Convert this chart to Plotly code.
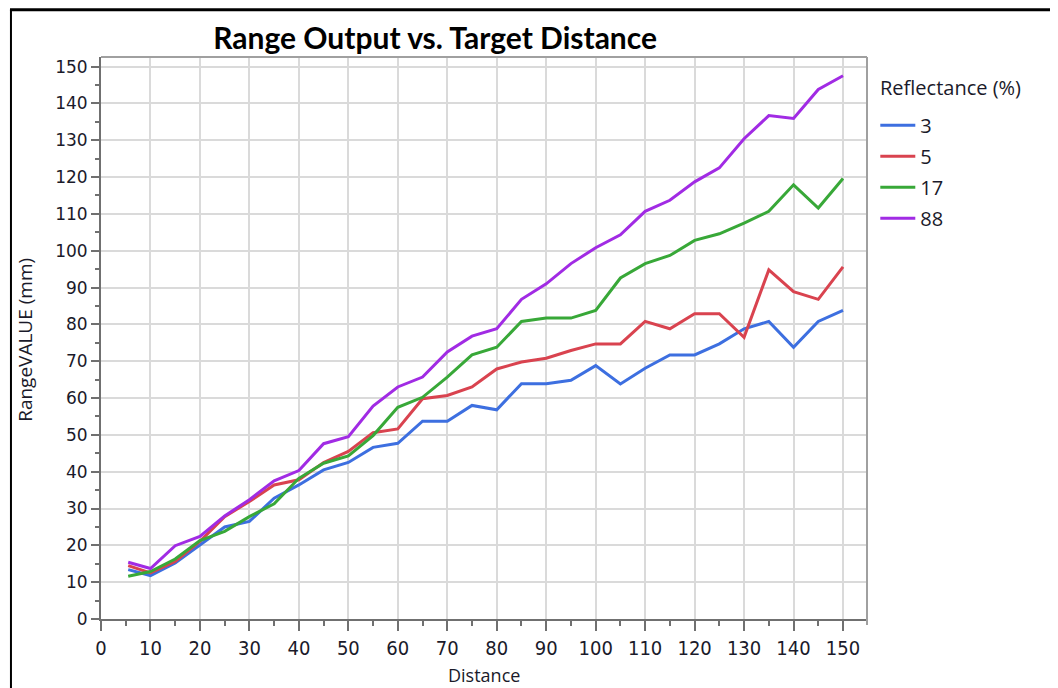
import plotly.graph_objects as go

distance = [5.5, 10, 15, 20, 25, 30, 35, 40, 45, 50, 55, 60, 65, 70, 75,
            80, 85, 90, 95, 100, 105, 110, 115, 120, 125, 130, 135, 140, 145, 150]

refl_3 = [13.4, 11.8, 15.2, 20.2, 25.0, 26.5, 32.8, 36.4, 40.5, 42.5, 46.6, 47.7, 53.7, 53.7, 58.0,
          56.8, 63.9, 63.9, 64.8, 68.8, 63.8, 68.1, 71.7, 71.7, 74.7, 78.8, 80.8, 73.8, 80.8, 83.8]
refl_5 = [14.5, 12.5, 15.6, 21.1, 27.8, 31.9, 36.4, 37.8, 42.5, 45.5, 50.6, 51.6, 59.8, 60.7, 63.0,
          67.9, 69.8, 70.8, 72.9, 74.7, 74.7, 80.8, 78.8, 82.9, 82.9, 76.5, 94.8, 88.9, 86.8, 95.6]
refl_17 = [11.6, 12.9, 16.3, 21.3, 23.8, 27.8, 31.3, 38.2, 42.3, 44.3, 49.8, 57.5, 60.2, 65.7, 71.7,
           73.8, 80.8, 81.7, 81.7, 83.8, 92.6, 96.5, 98.7, 102.8, 104.6, 107.5, 110.7, 117.9, 111.6, 119.6]
refl_88 = [15.4, 13.7, 19.9, 22.4, 28.0, 32.4, 37.5, 40.3, 47.6, 49.5, 57.8, 63.0, 65.7, 72.5, 76.8,
           78.8, 86.8, 91.0, 96.5, 100.8, 104.3, 110.7, 113.7, 118.7, 122.5, 130.4, 136.7, 135.9, 143.8, 147.5]

series_names = ["3", "5", "17", "88"]
series_values = [refl_3, refl_5, refl_17, refl_88]
series_colors = ["#3D6FE0", "#D9434F", "#38A838", "#A12BE4"]

# page body has an 8px margin: work in screen pixels and shift by 8
OFF = 8
W, H = 1058 - OFF, 688 - OFF
L, R, T, B = 101 - OFF, 1058 - 866.7, 57.3 - OFF, 688 - 619
pw, ph = W - L - R, H - T - B

def px_x(p):
    return (p - OFF - L) / pw

def px_y(p):
    return (H - B - (p - OFF)) / ph

fig = go.Figure()
for i, (name, vals, col) in enumerate(zip(series_names, series_values, series_colors)):
    fig.add_trace(go.Scatter(
        x=distance, y=vals, mode="lines", name=name,
        line=dict(color=col, width=3), legendgroup="g" + str(i),
    ))

txt_col = "#1a1a2a"

fig.update_layout(
    width=W, height=H,
    margin=dict(l=L, r=R, t=T, b=B, autoexpand=False),
    paper_bgcolor="white", plot_bgcolor="white",
    title=dict(text="<b>Range Output vs. Target Distance</b>",
               font=dict(family="Lato", size=30, color="black"),
               x=px_x(435), xref="paper", xanchor="center",
               y=1 - (38 - OFF) / H, yanchor="middle"),
    xaxis=dict(
        range=[0, 154.85], tickmode="array",
        tickvals=list(range(0, 151, 10)), ticktext=[str(v) for v in range(0, 151, 10)],
        ticks="outside", ticklen=10, tickwidth=1.5, tickcolor="#707070",
        showline=True, linecolor="#707070", linewidth=2,
        showgrid=True, gridcolor="#DADADA", gridwidth=2,
        zeroline=False,
        minor=dict(tickvals=list(range(5, 151, 10)), ticks="outside", ticklen=5,
                   tickcolor="#707070", tickwidth=1.5, showgrid=False),
        tickfont=dict(family="DejaVu Sans Condensed", size=20, color=txt_col),
    ),
    yaxis=dict(
        range=[0, 152.6], tickmode="array",
        tickvals=list(range(0, 151, 10)), ticktext=[str(v) for v in range(0, 151, 10)],
        ticks="outside", ticklen=8, tickwidth=1.5, tickcolor="#707070",
        showline=True, linecolor="#707070", linewidth=2,
        showgrid=True, gridcolor="#DADADA", gridwidth=2,
        zeroline=False,
        minor=dict(tickvals=list(range(5, 151, 10)), ticks="outside", ticklen=4,
                   tickcolor="#707070", tickwidth=1.5, showgrid=False),
        tickfont=dict(family="DejaVu Sans", size=17, color=txt_col),
    ),
    legend=dict(
        font=dict(family="Open Sans", size=20, color=txt_col),
        x=px_x(875), xanchor="left", y=px_y(106), yanchor="top",
        itemwidth=35, tracegroupgap=2, bgcolor="rgba(0,0,0,0)",
    ),
    showlegend=True,
)

# axis titles and legend title
fig.add_annotation(text="Distance", xref="paper", yref="paper", x=0.5, y=px_y(675),
                   xanchor="center", yanchor="middle", showarrow=False,
                   font=dict(family="Open Sans", size=18, color=txt_col))
fig.add_annotation(text="RangeVALUE (mm)", xref="paper", yref="paper", x=px_x(25), y=px_y(340),
                   xanchor="center", yanchor="middle", showarrow=False, textangle=-90,
                   font=dict(family="Open Sans", size=19, color=txt_col))
fig.add_annotation(text="Reflectance (%)", xref="paper", yref="paper", x=px_x(878), y=px_y(88),
                   xanchor="left", yanchor="middle", showarrow=False,
                   font=dict(family="Open Sans", size=20, color=txt_col))

# plot frame (top and right)
fig.add_shape(type="line", xref="paper", yref="paper", x0=0, x1=1, y0=1, y1=1,
              line=dict(color="#A0A0A0", width=2))
fig.add_shape(type="line", xref="paper", yref="paper", x0=1, x1=1, y0=px_y(625), y1=1,
              line=dict(color="#A0A0A0", width=2))
# outer black frame
fig.add_shape(type="line", xref="paper", yref="paper", x0=px_x(10), x1=px_x(1070),
              y0=px_y(10), y1=px_y(10), line=dict(color="black", width=3))
fig.add_shape(type="line", xref="paper", yref="paper", x0=px_x(11), x1=px_x(11),
              y0=px_y(10), y1=px_y(700), line=dict(color="black", width=2))

fig.write_html("out.html")
